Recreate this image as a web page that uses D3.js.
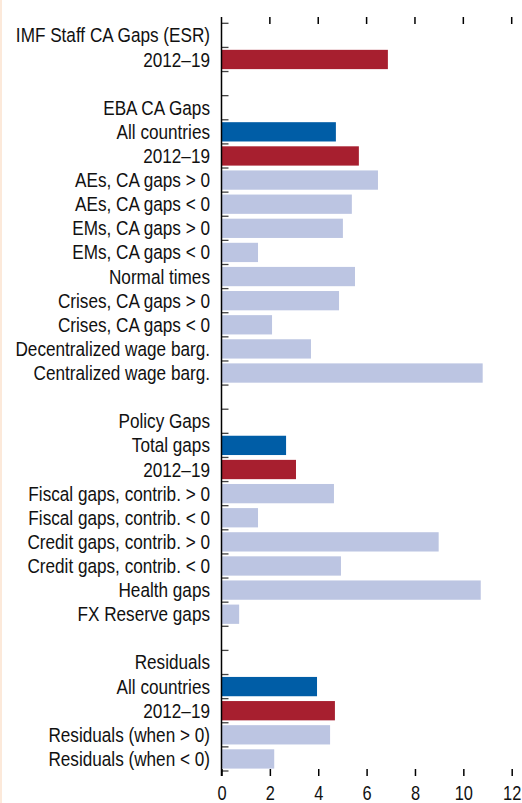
<!DOCTYPE html>
<html>
<head>
<meta charset="utf-8">
<script src="https://cdn.jsdelivr.net/npm/d3@7"></script>
<style>
    body { margin: 0; background: #fff; }
    svg text { font-family: "Liberation Sans", Arial, sans-serif; fill: #111; }
</style>
</head>
<body>
<div id="chart"></div>
<script>
// rows top to bottom; blank labels are spacer rows
const labels = [
    "IMF Staff CA Gaps (ESR)", "2012\u201319", "",
    "EBA CA Gaps", "All countries", "2012\u201319",
    "AEs, CA gaps > 0", "AEs, CA gaps < 0", "EMs, CA gaps > 0", "EMs, CA gaps < 0",
    "Normal times", "Crises, CA gaps > 0", "Crises, CA gaps < 0",
    "Decentralized wage barg.", "Centralized wage barg.", "",
    "Policy Gaps", "Total gaps", "2012\u201319",
    "Fiscal gaps, contrib. > 0", "Fiscal gaps, contrib. < 0",
    "Credit gaps, contrib. > 0", "Credit gaps, contrib. < 0",
    "Health gaps", "FX Reserve gaps", "",
    "Residuals", "All countries", "2012\u201319",
    "Residuals (when > 0)", "Residuals (when < 0)"
];
const values = [
    null, 6.88, null,
    null, 4.73, 5.68,
    6.47, 5.39, 5.02, 1.51,
    5.52, 4.86, 2.09,
    3.70, 10.80, null,
    null, 2.67, 3.08,
    4.65, 1.51,
    8.98, 4.94,
    10.72, 0.73, null,
    null, 3.95, 4.69,
    4.49, 2.18
];
// "all" = blue, "recent" = red, "sub" = light
const kinds = [
    null, "recent", null,
    null, "all", "recent",
    "sub", "sub", "sub", "sub",
    "sub", "sub", "sub",
    "sub", "sub", null,
    null, "all", "recent",
    "sub", "sub",
    "sub", "sub",
    "sub", "sub", null,
    null, "all", "recent",
    "sub", "sub"
];
const xTicks = [0, 2, 4, 6, 8, 10, 12];

const colors = { all: "#005da6", recent: "#a71f2f", sub: "#bcc5e2" };

const W = 522, H = 803;
const plotLeft = 221.5, plotRight = 511.7, plotTop = 23.3, plotBottom = 771;
const squeeze = 0.88; // condensed look for text

const svg = d3.select("#chart").append("svg")
    .attr("width", W)
    .attr("height", H);

// faint panel edge on the left
svg.append("rect")
    .attr("x", 0).attr("y", 0)
    .attr("width", 2).attr("height", H)
    .attr("fill", "#fce9da");

const rows = labels.map((l, i) => ({ i, label: l, value: values[i], kind: kinds[i] }));

const x = d3.scaleLinear().domain([0, 12]).range([plotLeft, plotRight]);
const y = d3.scaleBand()
    .domain(rows.map(d => d.i))
    .range([plotTop, plotBottom])
    .paddingInner(0.2)
    .paddingOuter(0.1);
const step = y.step();

// bars
svg.selectAll("rect.bar")
    .data(rows.filter(d => d.value != null))
    .enter()
    .append("rect")
    .attr("class", "bar")
    .attr("x", x(0) + 0.5)
    .attr("y", d => y(d.i))
    .attr("width", d => x(d.value) - x(0) - 0.5)
    .attr("height", y.bandwidth())
    .attr("fill", d => colors[d.kind]);

// category labels
svg.selectAll("text.cat")
    .data(rows)
    .enter()
    .append("text")
    .attr("class", "cat")
    .attr("transform", d => `translate(210,${y(d.i) + y.bandwidth() / 2}) scale(${squeeze},1)`)
    .attr("dy", "0.36em")
    .attr("text-anchor", "end")
    .style("font-size", "19.5px")
    .text(d => d.label);

// band boundary ticks on the y axis
const bounds = d3.range(labels.length + 1).map(k => plotTop + k * step);
svg.selectAll("line.ytick")
    .data(bounds)
    .enter()
    .append("line")
    .attr("x1", x(0))
    .attr("x2", x(0) + 7)
    .attr("y1", d => d)
    .attr("y2", d => d)
    .attr("stroke", "#444")
    .attr("stroke-width", 1.3);

// y axis line
svg.append("line")
    .attr("x1", x(0)).attr("x2", x(0))
    .attr("y1", 17).attr("y2", 776)
    .attr("stroke", "#000")
    .attr("stroke-width", 1.5);

// bottom axis
const xAxis = svg.append("g")
    .attr("transform", `translate(0,${plotBottom - 2})`)
    .call(d3.axisBottom(x).tickValues(xTicks).tickSize(7).tickPadding(9));
xAxis.select(".domain").remove();
xAxis.selectAll("line").attr("stroke", "#000").attr("stroke-width", 1.5);
xAxis.selectAll("text")
    .attr("transform", "scale(0.8,1)")
    .style("font-family", "'Liberation Sans', Arial, sans-serif")
    .style("font-size", "20.5px")
    .attr("fill", "#111");

// top ticks without labels
svg.selectAll("line.toptick")
    .data(xTicks.filter(v => v > 0))
    .enter()
    .append("line")
    .attr("x1", d => x(d)).attr("x2", d => x(d))
    .attr("y1", 17).attr("y2", 24)
    .attr("stroke", "#000")
    .attr("stroke-width", 1.5);
</script>
</body>
</html>
